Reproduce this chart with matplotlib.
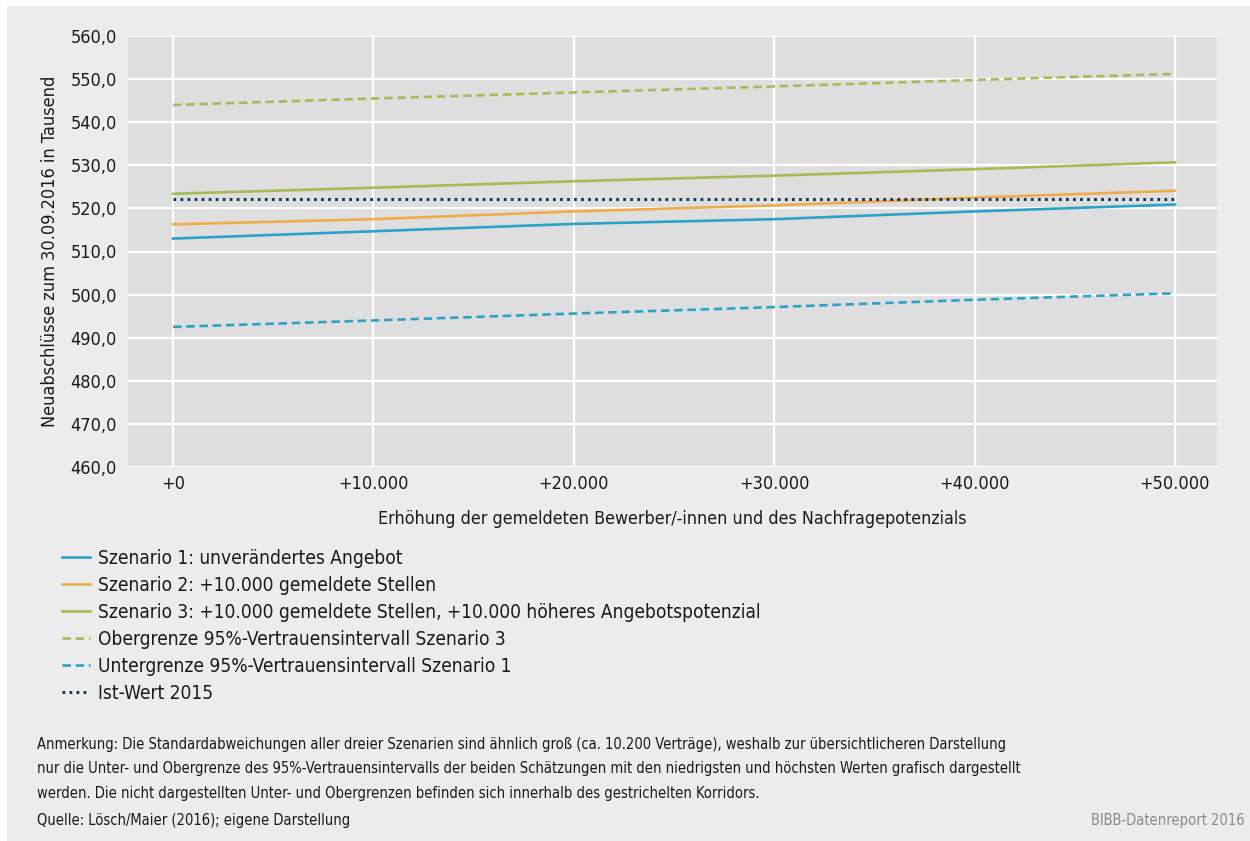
import matplotlib
matplotlib.use("Agg")
import matplotlib.pyplot as plt
from matplotlib.patches import Rectangle
from matplotlib.ticker import FuncFormatter

plt.rcParams['font.family'] = ['DejaVu Sans']
plt.rcParams['font.stretch'] = 'condensed'

# Erhöhung der Bewerber/-innen (x) und Neuabschlüsse in Tausend (y)
x_steps = [0, 10000, 20000, 30000, 40000, 50000]
x_labels = ['+0', '+10.000', '+20.000', '+30.000', '+40.000', '+50.000']

szenario_1 = [513.0, 514.7, 516.4, 517.5, 519.3, 520.9]
szenario_2 = [516.3, 517.5, 519.3, 520.7, 522.5, 524.1]
szenario_3 = [523.4, 524.8, 526.3, 527.6, 529.1, 530.7]
obergrenze_s3 = [544.0, 545.5, 546.9, 548.3, 549.8, 551.2]
untergrenze_s1 = [492.5, 494.0, 495.6, 497.1, 498.8, 500.3]
ist_wert_2015 = 522.1

labels = [
    'Szenario 1: unverändertes Angebot',
    'Szenario 2: +10.000 gemeldete Stellen',
    'Szenario 3: +10.000 gemeldete Stellen, +10.000 höheres Angebotspotenzial',
    'Obergrenze 95%-Vertrauensintervall Szenario 3',
    'Untergrenze 95%-Vertrauensintervall Szenario 1',
    'Ist-Wert 2015',
]

blue = '#2ba3c9'
orange = '#f2ab4a'
green = '#a3bd54'
navy = '#0e3b5c'
txt = '#1a1a1a'

W, H = 1250, 841
fig = plt.figure(figsize=(W / 100, H / 100), dpi=100)
fig.patch.set_facecolor('white')
fig.patches.append(Rectangle((7 / W, 0), 1 - 7 / W, 1 - 6 / H, transform=fig.transFigure,
                             facecolor='#ececec', edgecolor='none', zorder=-10))

ax = fig.add_axes([128 / W, 1 - 467 / H, (1217 - 128) / W, (467 - 36) / H])
ax.set_facecolor('#dedede')

lw = 1.9
ax.plot(x_steps, szenario_1, color=blue, lw=lw, label=labels[0])
ax.plot(x_steps, szenario_2, color=orange, lw=lw, label=labels[1])
ax.plot(x_steps, szenario_3, color=green, lw=lw, label=labels[2])
ax.plot(x_steps, obergrenze_s3, color=green, lw=lw, dashes=(3.2, 1.8), label=labels[3])
ax.plot(x_steps, untergrenze_s1, color=blue, lw=lw, dashes=(3.2, 1.8), label=labels[4])
ax.plot([x_steps[0], x_steps[-1]], [ist_wert_2015, ist_wert_2015], color=navy, lw=2.2,
        dashes=(0.9, 1.4), label=labels[5])

ax.set_xlim(-2250, 52100)
ax.set_ylim(460, 560)
ax.set_xticks(x_steps)
ax.set_xticklabels(x_labels)
ax.set_yticks(range(460, 561, 10))
ax.yaxis.set_major_formatter(FuncFormatter(lambda v, p: f'{v:.1f}'.replace('.', ',')))
ax.grid(True, color='white', lw=1.6)
ax.set_axisbelow(True)
for s in ax.spines.values():
    s.set_visible(False)
ax.tick_params(length=0, labelsize=13, colors=txt)
ax.tick_params(axis='x', pad=6)
ax.tick_params(axis='y', pad=8)

ax.set_xlabel('Erhöhung der gemeldeten Bewerber/-innen und des Nachfragepotenzials',
              fontsize=12.8, color=txt, labelpad=12)
ax.set_ylabel('Neuabschlüsse zum 30.09.2016 in Tausend', fontsize=13, color=txt,
              labelpad=8)

fig.legend(loc='upper left', bbox_to_anchor=(45 / W, 1 - 532 / H), frameon=False,
           fontsize=13.7, handlelength=1.47, handletextpad=0.42, labelspacing=0.42,
           labelcolor=txt)

note = ('Anmerkung: Die Standardabweichungen aller dreier Szenarien sind ähnlich groß (ca. 10.200 Verträge), '
        'weshalb zur übersichtlicheren Darstellung\n'
        'nur die Unter- und Obergrenze des 95%-Vertrauensintervalls der beiden Schätzungen mit den niedrigsten '
        'und höchsten Werten grafisch dargestellt\n'
        'werden. Die nicht dargestellten Unter- und Obergrenzen befinden sich innerhalb des gestrichelten Korridors.')
fig.text(37 / W, 1 - 737 / H, note, fontsize=10.5, color=txt, va='top', linespacing=1.78)
fig.text(37 / W, 1 - 821 / H, 'Quelle: Lösch/Maier (2016); eigene Darstellung', fontsize=10.5,
         color=txt, va='center')
fig.text(1245 / W, 1 - 821 / H, 'BIBB-Datenreport 2016', fontsize=10.5, color='#8a8a8a',
         va='center', ha='right')

fig.savefig('out.png', dpi=100, facecolor=fig.get_facecolor())
